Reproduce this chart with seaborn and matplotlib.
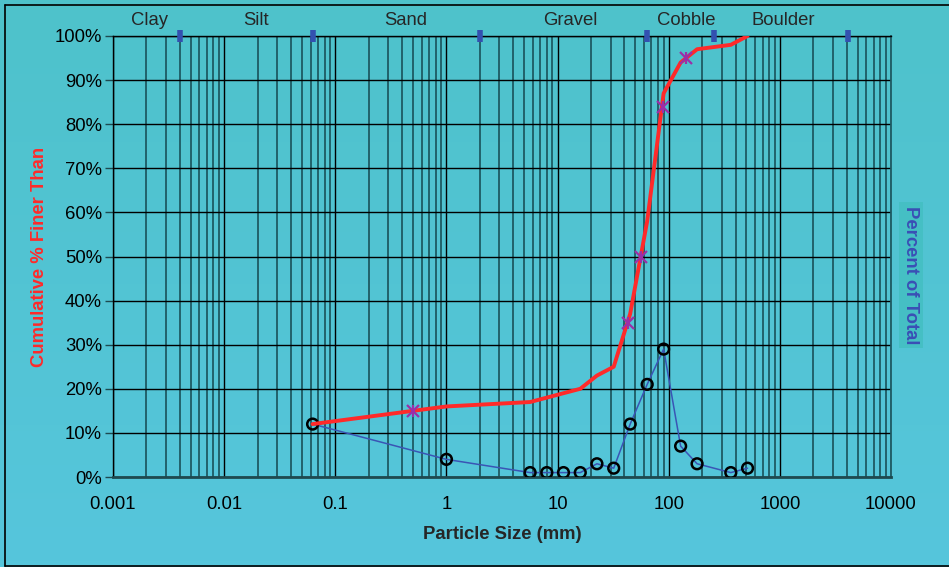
import numpy as np
import matplotlib
matplotlib.use("Agg")
import matplotlib.pyplot as plt
import seaborn as sns
from matplotlib.ticker import FixedLocator, LogLocator, NullFormatter, FuncFormatter
from matplotlib.lines import Line2D

# Sieve sizes (mm) and results
sizes = [0.0625, 1, 5.66, 8, 11.3, 16, 22.6, 32, 45, 64, 90, 128, 180, 362, 512]
pct_total = [12, 4, 1, 1, 1, 1, 3, 2, 12, 21, 29, 7, 3, 1, 2]
cum_finer = [12, 16, 17, 18, 19, 20, 23, 25, 37, 58, 87, 94, 97, 98, 100]

# D-values marked on the cumulative curve
d_sizes = [0.5, 43, 56, 89, 143]
d_pct = [15, 35, 50, 84, 95]

# Size class boundaries (mm) and class names
bounds = [0.004, 0.0625, 2, 64, 256, 4096]
classes = ["Clay", "Silt", "Sand", "Gravel", "Cobble", "Boulder"]
class_x = [0.00215, 0.0193, 0.43, 12.9, 145, 1078]

xticks = [0.001, 0.01, 0.1, 1, 10, 100, 1000, 10000]
xtick_labels = ["0.001", "0.01", "0.1", "1", "10", "100", "1000", "10000"]

bg = "#50C3D2"
fs = 13.3

sns.set_style("white")
plt.rcParams["font.family"] = ["Liberation Sans", "DejaVu Sans"]

fig = plt.figure(figsize=(9.49, 5.67), dpi=100, facecolor=bg)

# soft vertical gradient behind everything
bgax = fig.add_axes([0, 0, 1, 1], zorder=-10)
bgax.imshow(np.linspace(0, 1, 100).reshape(-1, 1), aspect="auto", extent=[0, 1, 0, 1],
            cmap=matplotlib.colors.LinearSegmentedColormap.from_list("bg", ["#56C6DC", "#4EC2CB"]),
            origin="lower")
bgax.axis("off")

ax = fig.add_axes([113 / 949, 90 / 567, 778 / 949, 441 / 567])
ax.patch.set_alpha(0)
ax.set_xscale("log")
ax.set_xlim(0.001, 10000)
ax.set_ylim(0, 100)

# grid
ax.xaxis.set_major_locator(FixedLocator(xticks))
ax.xaxis.set_minor_locator(LogLocator(base=10, subs=range(2, 10), numticks=100))
ax.xaxis.set_minor_formatter(NullFormatter())
ax.set_xticklabels(xtick_labels)
ax.set_yticks(range(0, 101, 10))
ax.yaxis.set_major_formatter(FuncFormatter(lambda v, p: f"{v:.0f}%"))
ax.grid(True, which="major", axis="both", color="black", linewidth=1.0)
ax.grid(True, which="minor", axis="x", color="#1E5A63", linewidth=1.3)
ax.set_axisbelow(True)

ax.tick_params(axis="both", which="major", direction="out", length=6, width=1,
               color="#1E4A50", labelsize=fs, labelcolor="black")
ax.tick_params(axis="x", which="major", pad=8)
ax.tick_params(axis="y", which="major", pad=2)
ax.tick_params(axis="x", which="minor", length=0)

for side in ["left", "top"]:
    ax.spines[side].set_color("black")
    ax.spines[side].set_linewidth(1.0)
ax.spines["bottom"].set_color("#1E4A50")
ax.spines["bottom"].set_linewidth(2.0)
ax.spines["right"].set_color("#1E5A63")
ax.spines["right"].set_linewidth(1.3)

# percent of total on secondary axis
ax2 = ax.twinx()
ax2.set_ylim(0, 100)
ax2.set_yticks([])
for s in ax2.spines.values():
    s.set_visible(False)
sns.lineplot(x=sizes, y=pct_total, ax=ax2, sort=False, estimator=None,
             color="#3A55B5", linewidth=1.1, zorder=3)
sns.scatterplot(x=sizes, y=pct_total, ax=ax2, s=60, marker="o",
                facecolor="none", edgecolor="black", linewidth=1.8, zorder=4)

# cumulative curve
sns.lineplot(x=sizes, y=cum_finer, ax=ax2, sort=False, estimator=None,
             color="#FF2A2A", linewidth=2.8, zorder=5)
# star marker: an x with a vertical bar through it
for mk in ["x", "|"]:
    ax2.plot(d_sizes, d_pct, linestyle="none", marker=mk, markersize=9,
             markeredgewidth=1.6, color="#9B2FA8", zorder=6)

# class boundary markers along the top
ax2.plot(bounds, [100] * len(bounds), linestyle="none", marker="|",
         markersize=8, markeredgewidth=4, color="#3350B0", clip_on=False, zorder=7)
for name, cx in zip(classes, class_x):
    ax2.text(cx, 103.6, name, ha="center", va="center", fontsize=fs, clip_on=False)
ax2.set_ylabel("")

ax.set_xlabel("Particle Size (mm)", fontsize=fs, fontweight="bold", labelpad=9)
ax.set_ylabel("Cumulative % Finer Than", fontsize=fs, fontweight="bold",
              color="#FF2A2A", labelpad=5)
fig.text(911 / 949, 1 - 275 / 567, "Percent of Total", fontsize=fs, fontweight="bold",
         color="#3A4FB5", rotation=270, ha="center", va="center",
         bbox=dict(boxstyle="square,pad=0.2", facecolor="#45BFC4", edgecolor="none"))

# outer frame
for xs, ys in [([5 / 949, 5 / 949], [1 / 567, 562 / 567]),
               ([5 / 949, 1], [562 / 567, 562 / 567]),
               ([5 / 949, 1], [1 / 567, 1 / 567])]:
    fig.add_artist(Line2D(xs, ys, color="black", linewidth=1.2, transform=fig.transFigure))

fig.savefig("out.png", dpi=100, facecolor=bg)
